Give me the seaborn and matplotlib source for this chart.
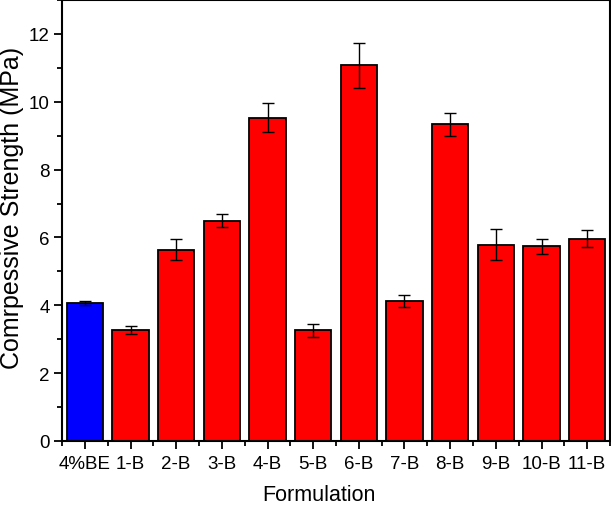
import numpy as np
import pandas as pd
import seaborn as sns
import matplotlib.pyplot as plt
from matplotlib.ticker import MultipleLocator, FixedLocator

# values
formulations = ["4%BE", "1-B", "2-B", "3-B", "4-B", "5-B", "6-B", "7-B", "8-B", "9-B", "10-B", "11-B"]
strength = [4.08, 3.27, 5.64, 6.50, 9.53, 3.26, 11.07, 4.13, 9.34, 5.79, 5.74, 5.96]
strength_err = [0.06, 0.11, 0.30, 0.19, 0.42, 0.20, 0.66, 0.17, 0.34, 0.45, 0.22, 0.25]
bar_colors = ["#0000FF"] + ["#FF0000"] * 11

df = pd.DataFrame({"formulation": formulations, "strength": strength, "err": strength_err})

sns.set_style("ticks")
plt.rcParams["font.family"] = ["Liberation Sans", "DejaVu Sans"]
plt.rcParams["text.color"] = "black"
plt.rcParams["axes.labelcolor"] = "black"

fig = plt.figure(figsize=(6.11, 5.06), dpi=100)
ax = fig.add_axes([62 / 611, 64 / 506, 548 / 611, 441 / 506])

sns.barplot(data=df, x="formulation", y="strength", hue="formulation",
            palette=bar_colors, legend=False, width=0.8,
            edgecolor="black", linewidth=1.3, saturation=1, ax=ax)

centers = [p.get_x() + p.get_width() / 2 for p in ax.patches]
ax.errorbar(centers, df["strength"], yerr=df["err"], fmt="none",
            ecolor="black", elinewidth=1.0, capsize=4, capthick=1.0, zorder=5)

ax.set_xlim(-0.5, len(formulations) - 0.5)
ax.set_ylim(0, 13)
ax.yaxis.set_major_locator(MultipleLocator(2))
ax.yaxis.set_minor_locator(MultipleLocator(1))
ax.xaxis.set_minor_locator(FixedLocator(np.arange(-0.5, len(formulations), 1.0)))

ax.tick_params(axis="both", which="major", direction="out", length=6, width=1.3,
               labelsize=13.5, color="black", labelcolor="black")
ax.tick_params(axis="both", which="minor", direction="out", length=3.5, width=1.3, color="black")
ax.tick_params(axis="y", which="major", pad=3)
ax.tick_params(axis="x", which="major", pad=4)

for side in ["left", "right", "top", "bottom"]:
    ax.spines[side].set_visible(True)
    ax.spines[side].set_linewidth(1.5)
    ax.spines[side].set_color("black")

ax.set_xlabel("Formulation", fontsize=15.5, color="black")
ax.set_ylabel("Comrpessive Strength (MPa)", fontsize=18, color="black")
ax.xaxis.set_label_coords(0.469, -0.098)
ax.yaxis.set_label_coords(-0.070, 0.53)

fig.savefig("out.png", dpi=100)
